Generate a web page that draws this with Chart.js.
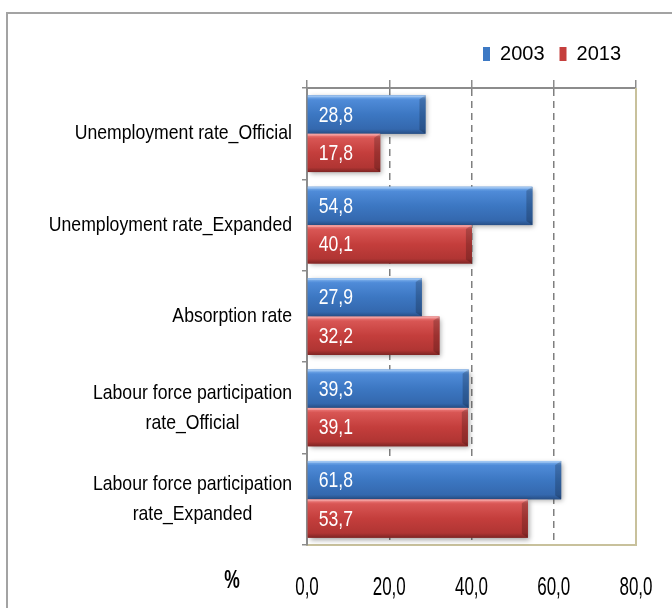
<!DOCTYPE html>
<html>
<head>
<meta charset="utf-8">
<script src="https://cdn.jsdelivr.net/npm/chart.js@4.4.1/dist/chart.umd.min.js"></script>
<style>
  html, body { margin: 0; padding: 0; background: #fff; overflow: hidden; }
  #wrap { position: relative; width: 672px; height: 608px; overflow: hidden; }
  #frame { position: absolute; left: 6px; top: 12px; width: 720px; height: 720px; border: 2px solid #a3a3a3; box-sizing: border-box; }
  canvas { position: absolute; left: 0; top: 0; }
</style>
</head>
<body>
<div id="wrap">
  <div id="frame"></div>
  <canvas id="chart" width="672" height="608"></canvas>
</div>
<script>
const categories = [
  ["Unemployment rate_Official"],
  ["Unemployment rate_Expanded"],
  ["Absorption rate"],
  ["Labour force participation", "rate_Official"],
  ["Labour force participation", "rate_Expanded"]
];
const values2003 = [28.8, 54.8, 27.9, 39.3, 61.8];
const values2013 = [17.8, 40.1, 32.2, 39.1, 53.7];
const seriesNames = ["2003", "2013"];
const xMin = 0;
const xMax = 80;
const xStep = 20;
const unitLabel = "%";

const FONT = "'Liberation Sans', Arial, sans-serif";

const palette = {
  blue: { solid: "#3d79c4", stops: ["#86b9f2", "#4f8bd8", "#3c77c2", "#3468ae", "#284f86"] },
  red: { solid: "#c53f3d", stops: ["#f58787", "#d85654", "#c43e3c", "#b03533", "#7e2524"] }
};

function fmt(v) {
  return Number(v).toFixed(1).replace(".", ",");
}

// the source used a tall narrow face; squeeze Liberation Sans horizontally
function narrowText(ctx, text, x, y, align, squeeze) {
  ctx.save();
  ctx.translate(x, y);
  ctx.scale(squeeze, 1);
  ctx.textAlign = align;
  ctx.fillText(text, 0, 0);
  ctx.restore();
}

// gradient bars with a small bevel, painted over the library's bar elements
const bevelBars = {
  id: "bevelBars",
  afterDatasetsDraw(chart) {
    const ctx = chart.ctx;
    chart.data.datasets.forEach((ds, di) => {
      const meta = chart.getDatasetMeta(di);
      const pal = ds.palette;
      meta.data.forEach((el, i) => {
        const { x, y, base, height } = el.getProps(["x", "y", "base", "height"], true);
        const top = y - height / 2;
        const w = x - base;
        const g = ctx.createLinearGradient(0, top, 0, top + height);
        g.addColorStop(0, pal.stops[0]);
        g.addColorStop(0.12, pal.stops[1]);
        g.addColorStop(0.5, pal.stops[2]);
        g.addColorStop(0.88, pal.stops[3]);
        g.addColorStop(1, pal.stops[4]);
        ctx.save();
        ctx.shadowColor = "rgba(0,0,0,0.35)";
        ctx.shadowBlur = 5;
        ctx.shadowOffsetX = 2;
        ctx.shadowOffsetY = 2;
        ctx.fillStyle = g;
        ctx.fillRect(base, top, w, height);
        ctx.restore();
        ctx.save();
        ctx.fillStyle = "rgba(0,0,0,0.2)";
        ctx.beginPath();
        ctx.moveTo(x - 6, top + 4);
        ctx.lineTo(x, top);
        ctx.lineTo(x, top + height);
        ctx.lineTo(x - 6, top + height - 4);
        ctx.closePath();
        ctx.fill();
        ctx.fillStyle = "rgba(255,255,255,0.25)";
        ctx.fillRect(base, top, w, 2);
        ctx.fillStyle = "#ffffff";
        ctx.font = "22px " + FONT;
        ctx.textBaseline = "middle";
        narrowText(ctx, fmt(ds.data[i]), base + 11, y + 1, "left", 0.8);
        ctx.restore();
      });
    });
  }
};

// category labels, x tick labels, right frame line and unit
const frameAndLabels = {
  id: "frameAndLabels",
  afterDraw(chart) {
    const ctx = chart.ctx;
    const area = chart.chartArea;
    const yScale = chart.scales.y;
    const x2 = chart.scales.x2;
    ctx.save();
    ctx.strokeStyle = "#c8c19c";
    ctx.lineWidth = 2;
    ctx.beginPath();
    ctx.moveTo(area.right, area.top);
    ctx.lineTo(area.right, area.bottom);
    ctx.stroke();

    ctx.font = "21px " + FONT;
    ctx.fillStyle = "#000";
    ctx.textBaseline = "middle";
    const sq = 0.84;
    const rightEdge = area.left - 15;
    const lineH = 30;
    categories.forEach((lines, i) => {
      const cy = yScale.getPixelForValue(i);
      const maxW = sq * Math.max(...lines.map((l) => ctx.measureText(l).width));
      const cx = rightEdge - maxW / 2;
      const y0 = cy - ((lines.length - 1) * lineH) / 2;
      lines.forEach((l, k) => narrowText(ctx, l, cx, y0 + k * lineH, "center", sq));
    });

    ctx.font = "25px " + FONT;
    x2.ticks.forEach((t) => {
      narrowText(ctx, fmt(t.value), x2.getPixelForValue(t.value), area.bottom + 43, "center", 0.68);
    });

    ctx.font = "bold 25px " + FONT;
    narrowText(ctx, unitLabel, 232, area.bottom + 36, "center", 0.7);
    ctx.restore();
  }
};

new Chart(document.getElementById("chart"), {
  type: "bar",
  data: {
    labels: categories,
    datasets: [
      { label: seriesNames[0], data: values2003, backgroundColor: palette.blue.solid, palette: palette.blue },
      { label: seriesNames[1], data: values2013, backgroundColor: palette.red.solid, palette: palette.red }
    ]
  },
  options: {
    indexAxis: "y",
    responsive: false,
    animation: false,
    categoryPercentage: 0.84,
    barPercentage: 1.0,
    layout: { padding: { left: 0, right: 36, top: 29, bottom: 11 } },
    plugins: {
      legend: {
        position: "top",
        align: "end",
        labels: {
          boxWidth: 7,
          boxHeight: 14,
          padding: 15,
          color: "#000",
          font: { size: 20, family: FONT }
        }
      },
      tooltip: { enabled: false }
    },
    scales: {
      x: {
        position: "top",
        min: xMin,
        max: xMax,
        ticks: { display: false, stepSize: xStep },
        grid: {
          color: (c) => (c.tick && c.tick.value > xMin && c.tick.value < xMax ? "#7f7f7f" : "rgba(0,0,0,0)"),
          lineWidth: 1.5,
          tickColor: "#8c8c8c",
          tickLength: 8,
          tickWidth: 1.5
        },
        border: { color: "#8c8c8c", width: 2, dash: [7, 5] },
        afterFit: (s) => { s.height += 6; }
      },
      x2: {
        position: "bottom",
        min: xMin,
        max: xMax,
        grid: { display: false, drawTicks: false },
        border: { color: "#c8c19c", width: 2 },
        ticks: { display: false, stepSize: xStep },
        afterFit: (s) => { s.height = 52; }
      },
      y: {
        type: "category",
        offset: true,
        ticks: { display: false },
        grid: {
          offset: true,
          drawOnChartArea: false,
          color: "#8c8c8c",
          tickLength: 5,
          lineWidth: 1.5
        },
        border: { color: "#8c8c8c", width: 2 },
        afterFit: (s) => { s.width = 307; }
      }
    }
  },
  plugins: [bevelBars, frameAndLabels]
});
</script>
</body>
</html>
